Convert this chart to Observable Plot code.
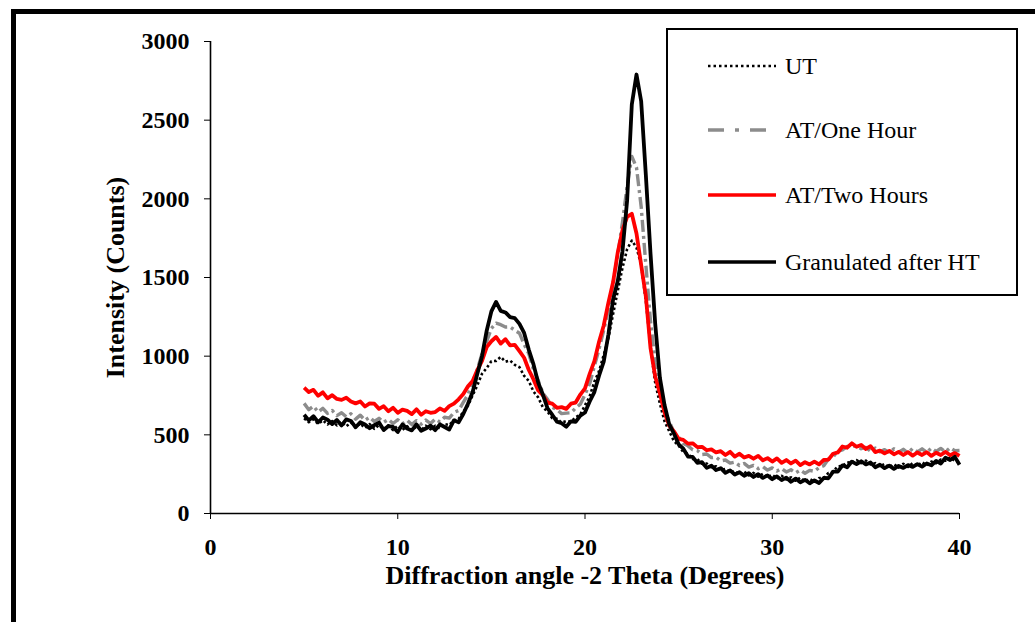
<!DOCTYPE html>
<html>
<head>
<meta charset="utf-8">
<script src="https://cdn.jsdelivr.net/npm/d3@7"></script>
<script src="https://cdn.jsdelivr.net/npm/@observablehq/plot@0.6"></script>
<style>
  html, body { margin: 0; padding: 0; background: #fff; }
  body { width: 1035px; height: 622px; position: relative; overflow: hidden; }
  #frame { position: absolute; left: 11px; top: 9px; width: 1100px; height: 700px;
           border-left: 5px solid #000; border-top: 5px solid #000; box-sizing: border-box; }
  #chart { position: absolute; left: 0; top: 0; }
  #legend { position: absolute; left: 666px; top: 28px; }
</style>
</head>
<body>
<div id="frame"></div>
<div id="chart"></div>
<div id="legend"></div>
<script>
// Sampling grid: 5° to 40° every 0.25°
const angleStart = 5;
const angleStep = 0.25;

const seriesNames = ["UT", "AT/One Hour", "AT/Two Hours", "Granulated after HT"];

const utValues = [
  605, 580, 598, 570,  592, 566, 588, 560,  582, 554, 578, 548,  572, 544, 568, 538,
  562, 536, 560, 530,  558, 532, 555, 528,  552, 530, 558, 535,  558, 540, 568, 562,
  592, 600, 648, 685,  752, 815, 888, 925,  968, 970, 995, 965,  972, 945, 930, 875,
  842, 775, 738, 675,  648, 606, 602, 578,  588, 584, 612, 630,  688, 745, 838, 905,
  1008, 1115, 1268, 1415,  1560, 1680, 1735, 1690,  1580, 1350, 1060, 830,  698, 585, 522, 460,
  432, 390, 380, 346,  345, 316, 318, 294,  300, 276, 284, 262,  270, 248, 266, 242,
  258, 234, 252, 229,  246, 222, 240, 216,  230, 209, 228, 204,  220, 202, 226, 226,
  258, 266, 300, 302,  326, 322, 340, 320,  336, 312, 320, 299,  316, 294, 313, 292,
  316, 296, 320, 302,  326, 306, 330, 319,  343, 336, 356, 334,  325
];

const oneHourValues = [
  700, 660, 682, 645,  668, 636, 655, 622,  640, 615, 634, 600,  625, 592, 612, 585,
  605, 580, 598, 572,  596, 570, 592, 565,  590, 568, 594, 572,  600, 582, 612, 606,
  642, 655, 706, 755,  836, 915, 1016, 1094,  1176, 1210, 1200, 1185,  1186, 1165, 1146, 1075,
  1016, 915, 846, 765,  726, 675, 660, 635,  638, 640, 670, 695,  756, 825, 936, 1045,
  1165, 1295, 1465, 1645,  1850, 2080, 2270, 2200,  1950, 1580, 1220, 960,  796, 655, 585, 515,
  486, 445, 430, 405,  400, 375, 378, 355,  358, 335, 340, 320,  326, 305, 318, 295,
  306, 285, 298, 276,  290, 270, 286, 264,  278, 258, 276, 256,  274, 268, 292, 304,
  346, 360, 396, 404,  426, 426, 430, 412,  420, 396, 416, 392,  406, 386, 411, 389,
  408, 384, 414, 392,  411, 389, 416, 394,  414, 392, 418, 399,  400
];

const twoHourValues = [
  800, 772, 786, 748,  770, 732, 752, 728,  722, 736, 712, 700,  712, 680, 700, 698,
  665, 682, 650, 672,  640, 660, 652, 632,  662, 628, 650, 640,  645, 668, 652, 682,
  698, 726, 760, 808,  842, 912, 970, 1058,  1095, 1122, 1080, 1108,  1068, 1072, 1032, 990,
  912, 852, 782, 752,  705, 698, 672, 676,  665, 698, 705, 756,  795, 888, 968, 1092,
  1195, 1340, 1470, 1660,  1800, 1885, 1905, 1780,  1580, 1380, 1050, 870,  762, 642, 558, 522,
  475, 468, 444, 446,  422, 424, 402, 408,  388, 396, 372, 392,  362, 380, 356, 366,
  348, 366, 338, 352,  330, 350, 322, 340,  318, 336, 308, 326,  312, 330, 312, 340,
  342, 380, 388, 426,  418, 446, 424, 436,  410, 428, 390, 400,  382, 398, 376, 392,
  372, 390, 368, 388,  372, 390, 366, 386,  372, 392, 370, 384,  366
];

const granulatedValues = [
  628, 592, 618, 580,  610, 596, 568, 594,  560, 598, 588, 548,  580, 566, 542, 562,
  578, 530, 556, 550,  518, 566, 540, 528,  566, 526, 540, 558,  530, 566, 550, 534,
  592, 580, 632, 698,  772, 888, 1000, 1162,  1285, 1345, 1288, 1278,  1248, 1242, 1205, 1148,
  1040, 948, 832, 756,  668, 628, 584, 574,  552, 586, 582, 622,  642, 712, 772, 876,
  965, 1138, 1360, 1478,  1665, 1990, 2600, 2790,  2620, 2150, 1650, 1205,  862, 688, 566, 508,
  440, 412, 362, 360,  322, 326, 290, 304,  276, 288, 258, 274,  248, 262, 240, 256,
  232, 250, 226, 242,  218, 236, 212, 228,  202, 222, 198, 214,  192, 210, 194, 226,
  224, 266, 266, 306,  294, 330, 314, 332,  312, 324, 294, 310,  288, 304, 284, 302,
  290, 308, 296, 314,  298, 318, 306, 334,  318, 354, 340, 360,  310
];

const xTicks = [0, 10, 20, 30, 40];
const yTicks = [0, 500, 1000, 1500, 2000, 2500, 3000];

const styles = {
  "UT": {stroke: "#000000", strokeWidth: 2.6, strokeDasharray: "2.5,2.5", legendWidth: 2.5, legendDash: "2.5,3"},
  "AT/One Hour": {stroke: "#8c8c8c", strokeWidth: 3.4, strokeDasharray: "12,4,3,4", legendWidth: 3.5, legendDash: "16,11,4,11,16"},
  "AT/Two Hours": {stroke: "#ff0000", strokeWidth: 3.8, strokeDasharray: null, legendWidth: 3.5, legendDash: null},
  "Granulated after HT": {stroke: "#000000", strokeWidth: 3.8, strokeDasharray: null, legendWidth: 3.5, legendDash: null}
};

const toRows = (vals) => vals.map((v, i) => ({angle: angleStart + i * angleStep, intensity: v}));
const seriesData = {
  "UT": toRows(utValues),
  "AT/One Hour": toRows(oneHourValues),
  "AT/Two Hours": toRows(twoHourValues),
  "Granulated after HT": toRows(granulatedValues)
};

const font = '"Liberation Serif", "Times New Roman", serif';

const lineMarks = seriesNames.map(name => Plot.line(seriesData[name], {
  x: "angle", y: "intensity",
  stroke: styles[name].stroke,
  strokeWidth: styles[name].strokeWidth,
  strokeDasharray: styles[name].strokeDasharray,
  strokeLinejoin: "round",
  strokeLinecap: "butt"
}));

const chart = Plot.plot({
  width: 1035,
  height: 622,
  marginLeft: 210,
  marginRight: 76,
  marginTop: 41,
  marginBottom: 109,
  style: {fontFamily: font, fontSize: "24px", fontWeight: "bold", color: "#000", background: "transparent", overflow: "visible"},
  x: {domain: [0, 40]},
  y: {domain: [0, 3000]},
  marks: [
    Plot.axisX({ticks: xTicks, tickFormat: d => String(d), tickSize: 6, tickPadding: 18, label: null, fontSize: 24, fontWeight: "bold"}),
    Plot.axisY({ticks: yTicks, tickFormat: d => String(d), tickSize: 6, tickPadding: 15, label: null, fontSize: 24, fontWeight: "bold"}),
    Plot.ruleX([0], {stroke: "#000", strokeWidth: 1.6}),
    Plot.ruleY([0], {stroke: "#000", strokeWidth: 1.6}),
    ...lineMarks,
    Plot.text(["Intensity (Counts)"], {frameAnchor: "left", textAnchor: "middle", rotate: -90, dx: -95, fontSize: 26, fontWeight: "bold", fill: "#000"}),
    Plot.text(["Diffraction angle -2 Theta (Degrees)"], {frameAnchor: "bottom", textAnchor: "middle", dy: 70, fontSize: 26, fontWeight: "bold", fill: "#000"})
  ]
});
document.getElementById("chart").appendChild(chart);

// Legend (SVG overlay box in the upper right)
const ns = "http://www.w3.org/2000/svg";
const lg = document.createElementNS(ns, "svg");
lg.setAttribute("width", 352);
lg.setAttribute("height", 268);
const box = document.createElementNS(ns, "rect");
box.setAttribute("x", 1); box.setAttribute("y", 1);
box.setAttribute("width", 350); box.setAttribute("height", 266);
box.setAttribute("fill", "#fff"); box.setAttribute("stroke", "#000"); box.setAttribute("stroke-width", 2);
lg.appendChild(box);
const rowCenters = [38, 102, 167, 234];
seriesNames.forEach((name, i) => {
  const st = styles[name];
  const cy = rowCenters[i];
  const ln = document.createElementNS(ns, "line");
  ln.setAttribute("x1", 42); ln.setAttribute("x2", 110);
  ln.setAttribute("y1", cy); ln.setAttribute("y2", cy);
  ln.setAttribute("stroke", st.stroke);
  ln.setAttribute("stroke-width", st.legendWidth);
  if (st.legendDash) ln.setAttribute("stroke-dasharray", st.legendDash);
  lg.appendChild(ln);
  const tx = document.createElementNS(ns, "text");
  tx.setAttribute("x", 119);
  tx.setAttribute("y", cy);
  tx.setAttribute("dy", "0.33em");
  tx.setAttribute("font-family", font);
  tx.setAttribute("font-size", 24);
  tx.setAttribute("font-weight", "normal");
  tx.setAttribute("fill", "#000");
  tx.textContent = name;
  lg.appendChild(tx);
});
document.getElementById("legend").appendChild(lg);
</script>
</body>
</html>
